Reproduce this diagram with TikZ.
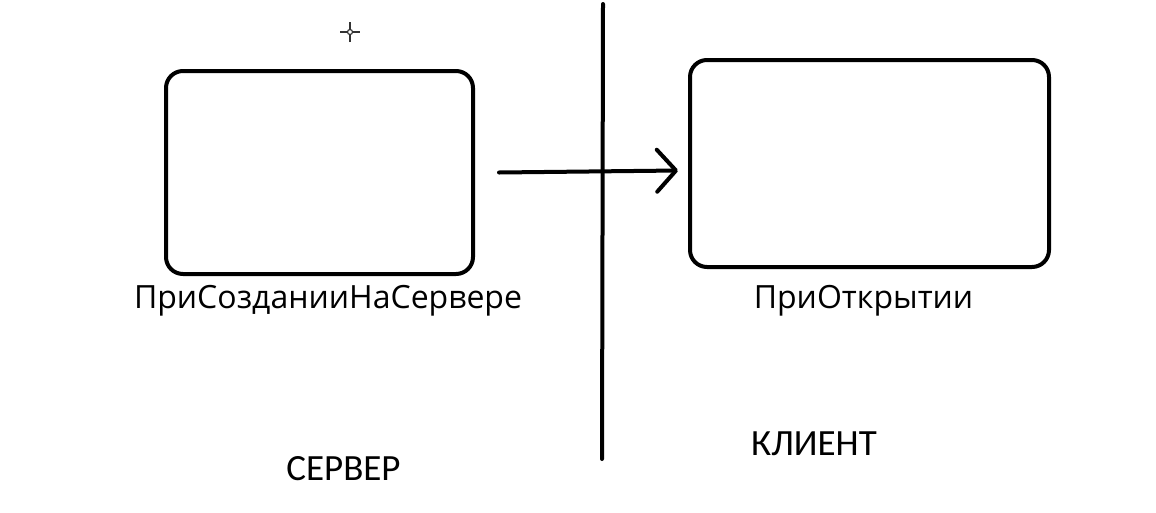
\documentclass[tikz,border=0pt]{standalone}
\usepackage{fontspec}
\setmainfont{Carlito}
\newfontfamily\captionfont{Open Sans}
\usetikzlibrary{arrows.meta}
\begin{document}
\begin{tikzpicture}[x=1pt,y=-1pt,
  handbox/.style={draw=black,line width=4pt,rounded corners=17pt,inner sep=0pt},
  handline/.style={draw=black,line width=4pt,line cap=round,line join=round},
  flow/.style={handline,-{Straight Barb[length=19pt,width=42pt,line width=4pt,line cap=round,line join=round]}},
  caption/.style={anchor=base,inner sep=0pt,font=\captionfont\fontsize{32}{32}\selectfont},
  sidelabel/.style={anchor=base,inner sep=0pt,font=\fontsize{37}{37}\selectfont}]
  \useasboundingbox[fill=white] (0,0) rectangle (1156,512);

  % event handler boxes
  \node[handbox,minimum width=307pt,minimum height=203pt] (srv) at (319.5,172.5) {};
  \node[handbox,minimum width=359pt,minimum height=207pt] (cli) at (869.5,163.5) {};

  % divider between the two sides
  \coordinate (divtop) at (603,4);
  \coordinate (divbot) at (602,459);
  \draw[handline] (divtop) -- (divbot);

  % call from server handler to client handler
  \draw[flow] ([xshift=24pt]srv.east) -- ([xshift=-10pt,yshift=2pt]cli.west |- srv.east);

  % handler names
  \node[caption] (srvname) at (328,308) {ПриСозданииНаСервере};
  \node[caption] (cliname) at (863.5,308) {ПриОткрытии};

  % side names
  \node[sidelabel] (srvside) at (343.5,480) {СЕРВЕР};
  \node[sidelabel] (cliside) at (814,455) {КЛИЕНТ};

  % pointer crosshair
  \begin{scope}[draw=black!80,line width=1.2pt]
    \coordinate (ptr) at (350,32);
    \draw (ptr) circle (2.5);
    \draw ([yshift=-10pt]ptr) -- ([yshift=-3pt]ptr);
    \draw ([yshift=3pt]ptr) -- ([yshift=10pt]ptr);
    \draw ([xshift=-10pt]ptr) -- ([xshift=-3pt]ptr);
    \draw ([xshift=3pt]ptr) -- ([xshift=10pt]ptr);
  \end{scope}
\end{tikzpicture}
\end{document}
